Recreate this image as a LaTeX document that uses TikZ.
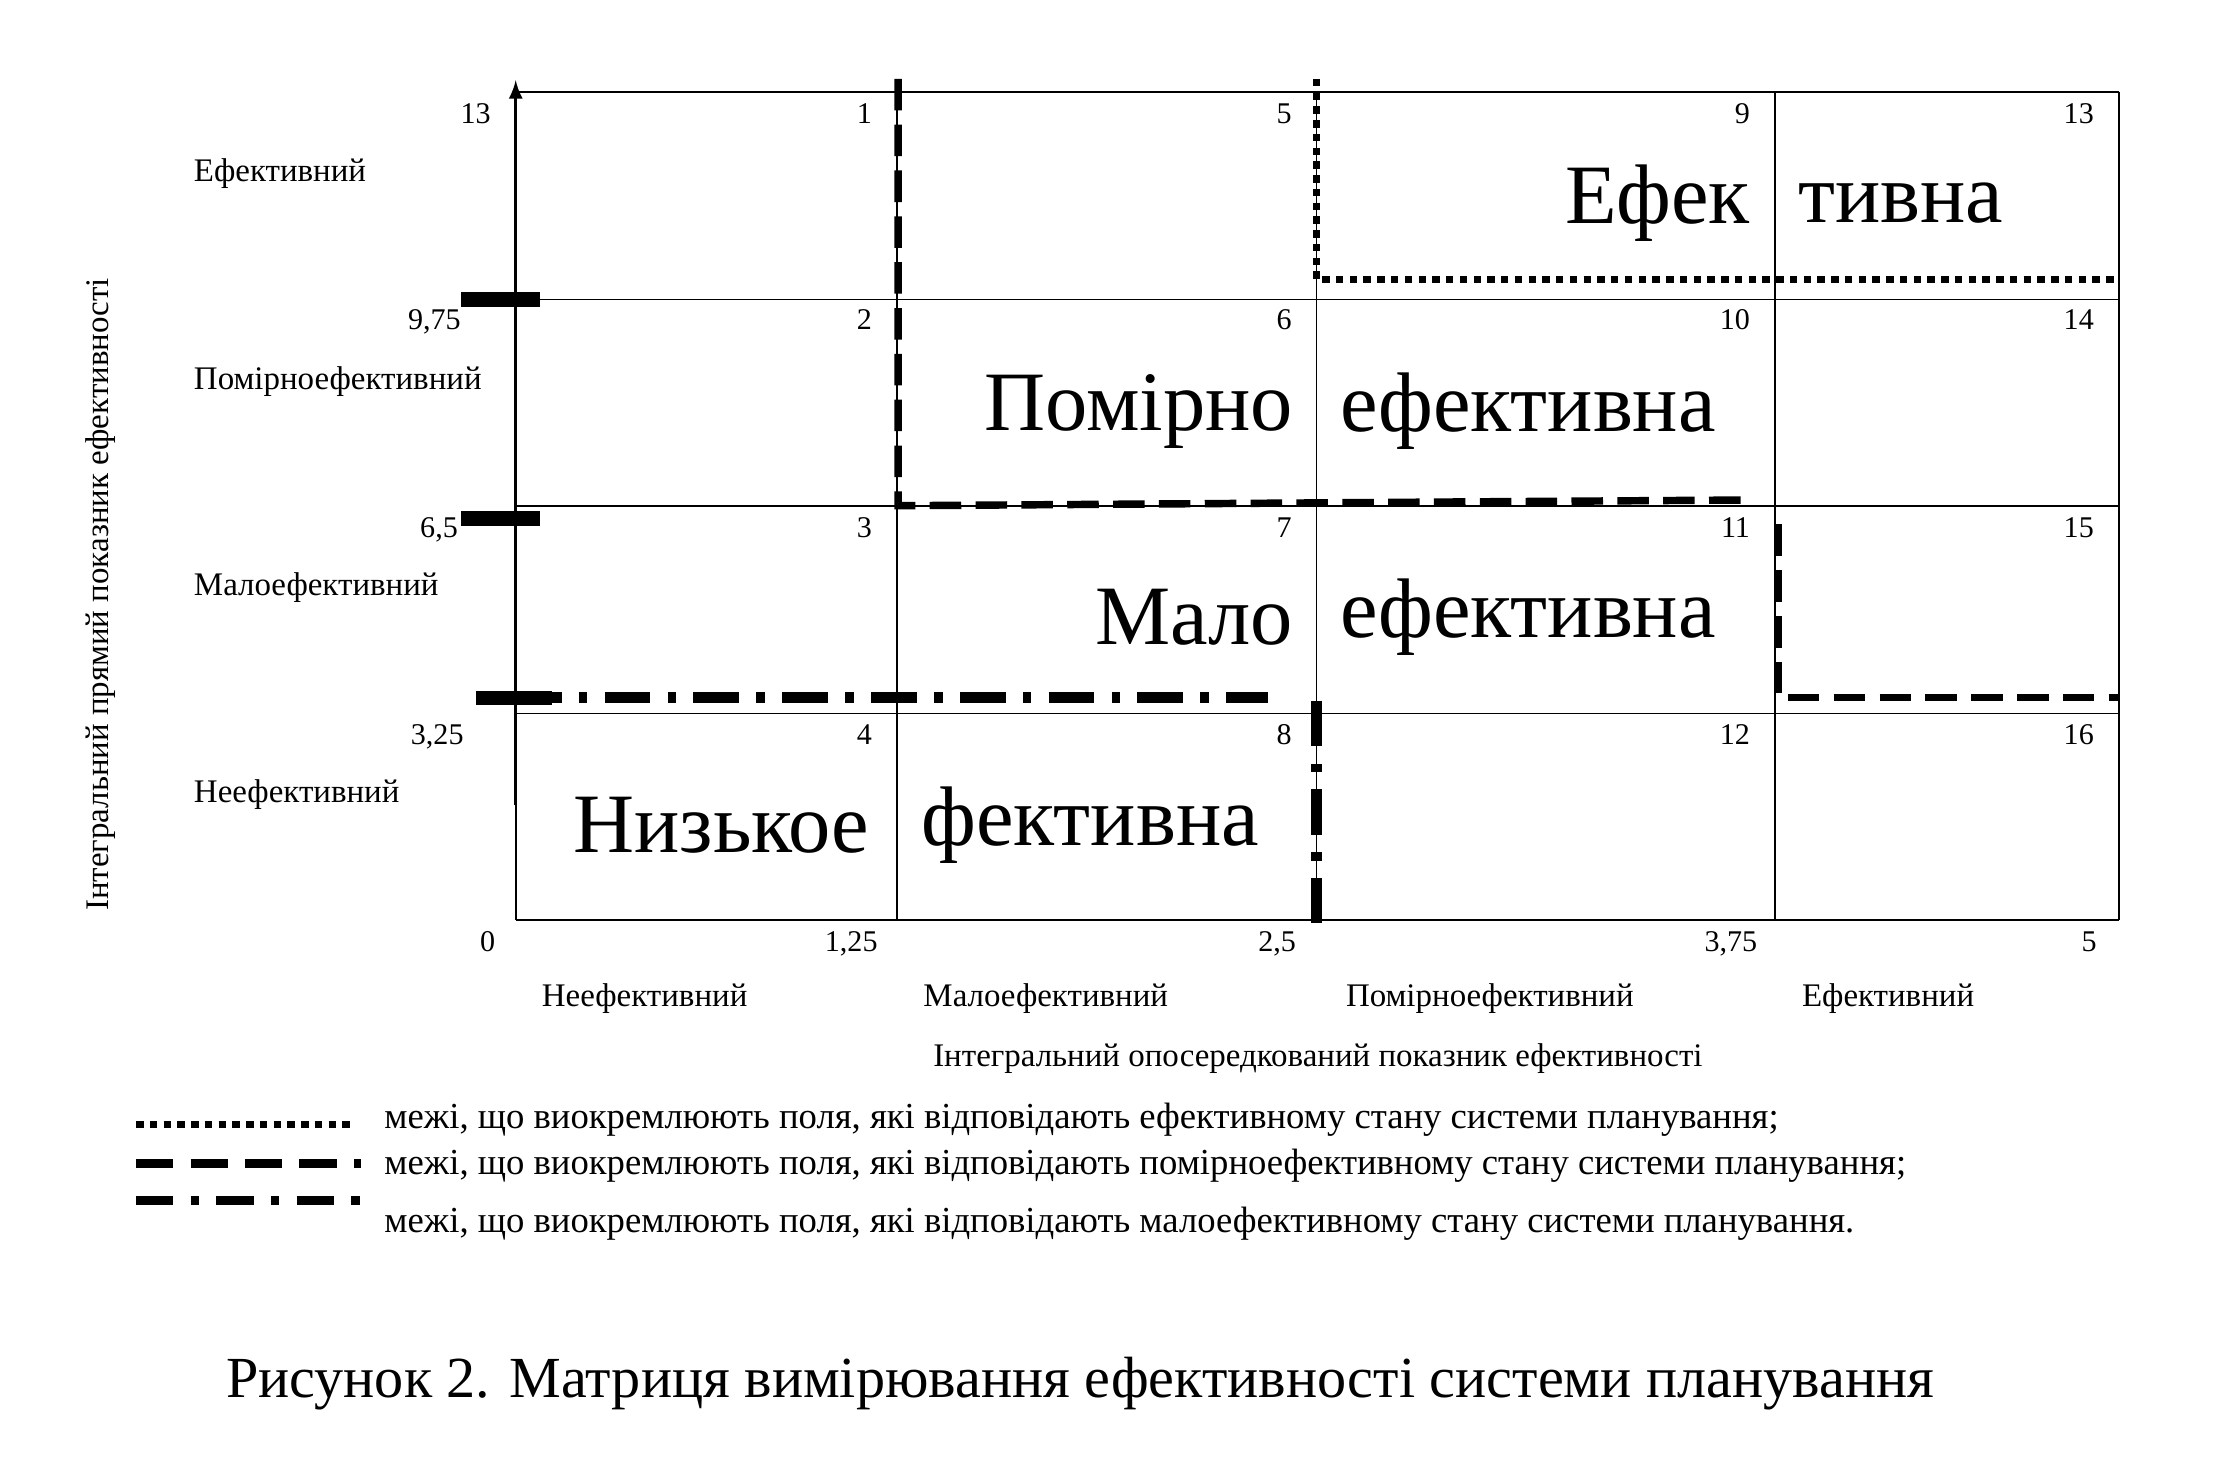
\documentclass[tikz,border=0pt]{standalone}
\usepackage{fontspec}
\setmainfont{Liberation Serif}
\begin{document}
\begin{tikzpicture}[x=0.5pt,y=-0.5pt,
 num/.style={anchor=base east,font=\fontsize{10.5}{12}\selectfont,inner sep=0},
 lab/.style={anchor=base west,font=\fontsize{11.5}{13}\selectfont,inner sep=0},
 leg/.style={anchor=base west,font=\fontsize{12.8}{14}\selectfont,inner sep=0},
 big/.style={font=\fontsize{29.5}{34}\selectfont,inner sep=0},
 dotl/.style={line width=2.6pt,dash pattern=on 2.6pt off 2.2pt},
 dashl/.style={line width=2.6pt,dash pattern=on 11pt off 5pt},
 ddl/.style={line width=4pt,dash pattern=on 16pt off 6pt on 3pt off 6pt}]
\useasboundingbox (0,0) rectangle (1549,1025);
% grid
\foreach \x in {360,626,919,1239,1479}{\draw[line width=0.6pt] (\x,64) -- (\x,642);}
\foreach \y in {64,209,353,498,642}{\draw[line width=0.6pt] (360,\y) -- (1479,\y);}
% cell numbers
\foreach \n/\x/\y in {1/609/86,5/902/86,9/1222/86,13/1462/86,2/609/230,6/902/230,10/1222/230,14/1462/230,3/609/375,7/902/375,11/1222/375,15/1462/375,4/609/520,8/902/520,12/1222/520,16/1462/520}
 \node[num] (c\n) at (\x,\y) {\n};
% axis
\coordinate (a0) at (360,562); \coordinate (a1) at (360,56);
\draw[line width=1.2pt,-latex] (a0) -- (a1);
\draw[line width=5pt] (322,209) -- (377,209);
\draw[line width=5pt] (322,362) -- (377,362);
\draw[line width=5pt] (332,487) -- (385,487);
% y labels
\node[num] (y1) at (343,86) {13};
\node[num] (y2) at (322,230) {9,75};
\node[num] (y3) at (320,375) {6,5};
\node[num] (y4) at (324,520) {3,25};
\node[lab] (l1) at (135,127) {Ефективний};
\node[lab] (l2) at (135,272) {Помірноефективний};
\node[lab] (l3) at (135,416) {Малоефективний};
\node[lab] (l4) at (135,560) {Неефективний};
\node[rotate=90,font=\fontsize{11.5}{13}\selectfont] (ya) at (70,415) {Інтегральний прямий показник ефективності};
% x labels
\node[num] (x0) at (346,664) {0};
\node[num] (x1) at (613,664) {1,25};
\node[num] (x2) at (905,664) {2,5};
\node[num] (x3) at (1227,664) {3,75};
\node[num] (x4) at (1464,664) {5};
\foreach \t/\x [count=\i] in {Неефективний/450,Малоефективний/730,Помірноефективний/1040,Ефективний/1318}
 \node[font=\fontsize{11.5}{13}\selectfont] (xc\i) at (\x,697) {\t};
\node[font=\fontsize{11.5}{13}\selectfont] (xa) at (920,739) {Інтегральний опосередкований показник ефективності};
% boundaries
\coordinate (d1) at (919,55); \coordinate (d2) at (919,195); \coordinate (d3) at (1479,195);
\draw[dotl] (d1) -- (d2) -- (d3);
\coordinate (m1) at (627,55); \coordinate (m2) at (627,353); \coordinate (m3) at (1222,349);
\draw[dashl] (m1) -- (m2) -- (m3);
\coordinate (m4) at (1241,366); \coordinate (m5) at (1241,487); \coordinate (m6) at (1479,487);
\draw[dashl] (m4) -- (m5) -- (m6);
\coordinate (k1) at (360,487); \coordinate (k2) at (885,487);
\draw[ddl] (k1) -- (k2);
\coordinate (k3) at (919,489); \coordinate (k4) at (919,644);
\draw[ddl] (k3) -- (k4);
% big texts
\node[big,anchor=east] (b1) at (1222,142) {Ефек};
\node[big,anchor=west] (b2) at (1255,142) {тивна};
\node[big,anchor=east] (b3) at (903,287) {Помірно};
\node[big,anchor=west] (b4) at (935,287) {ефективна};
\node[big,anchor=east] (b5) at (903,431) {Мало};
\node[big,anchor=west] (b6) at (935,431) {ефективна};
\node[big,anchor=west] (b7) at (400,576) {Низькое};
\node[big,anchor=west] (b8) at (643,576) {фективна};
% legend
\coordinate (e1) at (95,785); \coordinate (e2) at (245,785);
\draw[dotl] (e1) -- (e2);
\coordinate (e3) at (95,812); \coordinate (e4) at (252,812);
\draw[line width=3pt,dash pattern=on 13pt off 6pt] (e3) -- (e4);
\coordinate (e5) at (95,838); \coordinate (e6) at (252,838);
\draw[line width=3pt,dash pattern=on 13pt off 6pt on 3pt off 6pt] (e5) -- (e6);
\node[leg] (t1) at (268,788) {межі, що виокремлюють поля, які відповідають ефективному стану системи планування;};
\node[leg] (t2) at (268,820) {межі, що виокремлюють поля, які відповідають помірноефективному стану системи планування;};
\node[leg] (t3) at (268,860) {межі, що виокремлюють поля, які відповідають малоефективному стану системи планування.};
\node[font=\fontsize{20.3}{24}\selectfont] (cap) at (754,966) {Рисунок 2. Матриця вимірювання ефективності системи планування};
\end{tikzpicture}
\end{document}
